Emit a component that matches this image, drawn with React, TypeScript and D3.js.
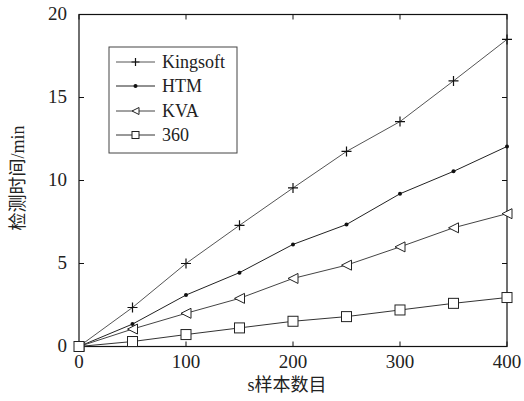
import React from "react";
import * as d3 from "d3";

const xValues = [0, 50, 100, 150, 200, 250, 300, 350, 400];
const kingsoft = [0, 2.35, 5.0, 7.3, 9.55, 11.75, 13.55, 16.0, 18.5];
const htm = [0, 1.35, 3.1, 4.45, 6.15, 7.35, 9.2, 10.55, 12.05];
const kva = [0, 1.05, 2.0, 2.9, 4.1, 4.9, 6.0, 7.15, 8.0];
const s360 = [0, 0.3, 0.72, 1.12, 1.52, 1.8, 2.2, 2.6, 2.95];
const xTicks = [0, 100, 200, 300, 400];
const yTicks = [0, 5, 10, 15, 20];

const series = [
  { name: "Kingsoft", values: kingsoft, marker: "plus", color: "#555" },
  { name: "HTM", values: htm, marker: "dot", color: "#222" },
  { name: "KVA", values: kva, marker: "tri", color: "#444" },
  { name: "360", values: s360, marker: "square", color: "#333" },
];

const font = "'Liberation Serif', 'Times New Roman', 'Noto Sans CJK SC', serif";

const Marker = ({ type, x, y, s = 5 }: { type: string; x: number; y: number; s?: number }) => {
  if (type === "plus")
    return (
      <path d={`M${x - s},${y}H${x + s}M${x},${y - s}V${y + s}`} stroke="#111" strokeWidth={1.2} fill="none" />
    );
  if (type === "dot") return <circle cx={x} cy={y} r={2} fill="#111" />;
  if (type === "tri")
    return (
      <path d={`M${x - s},${y}L${x + s},${y - s}L${x + s},${y + s}Z`} stroke="#222" strokeWidth={1} fill="white" />
    );
  return <rect x={x - s} y={y - s} width={2 * s} height={2 * s} stroke="#222" strokeWidth={1} fill="white" />;
};

export default function App() {
  const W = 524, H = 401;
  const left = 79, right = 507, top = 14.5, bottom = 346.5;
  const x = d3.scaleLinear().domain([0, 400]).range([left, right]);
  const y = d3.scaleLinear().domain([0, 20]).range([bottom, top]);
  const line = d3.line<number>().x((_, i) => x(xValues[i])).y((d) => y(d));
  const tk = 5;

  const legendX = 109, legendY = 47, legendW = 128, legendH = 106;
  const rowY = [62, 86, 111, 135];

  return (
    <svg width={W} height={H} style={{ position: "absolute", left: 0, top: 0, background: "white" }} fontFamily={font}>
      {/* frame */}
      <rect x={left} y={top} width={right - left} height={bottom - top} fill="none" stroke="#111" strokeWidth={1.2} />
      {/* ticks */}
      {xTicks.map((t) => (
        <g key={"x" + t}>
          <line x1={x(t)} x2={x(t)} y1={bottom} y2={bottom - tk} stroke="#111" />
          <line x1={x(t)} x2={x(t)} y1={top} y2={top + tk} stroke="#111" />
          <text x={x(t)} y={368} fontSize={19} textAnchor="middle" fill="#222">{t}</text>
        </g>
      ))}
      {yTicks.map((t) => (
        <g key={"y" + t}>
          <line x1={left} x2={left + tk} y1={y(t)} y2={y(t)} stroke="#111" />
          <line x1={right} x2={right - tk} y1={y(t)} y2={y(t)} stroke="#111" />
          <text x={67} y={y(t) + 5} fontSize={19} textAnchor="end" fill="#222">{t}</text>
        </g>
      ))}
      {/* series */}
      {series.map((s) => (
        <g key={s.name}>
          <path d={line(s.values) || ""} fill="none" stroke={s.color} strokeWidth={1} />
          {s.values.map((v, i) => (
            <Marker key={i} type={s.marker} x={x(xValues[i])} y={y(v)} />
          ))}
        </g>
      ))}
      {/* legend */}
      <rect x={legendX} y={legendY} width={legendW} height={legendH} fill="white" stroke="#444" strokeWidth={1} />
      {series.map((s, i) => (
        <g key={"l" + s.name}>
          <line x1={116} x2={155} y1={rowY[i]} y2={rowY[i]} stroke={s.color} strokeWidth={1} />
          <Marker type={s.marker} x={135.5} y={rowY[i]} s={s.marker === "plus" ? 4 : 3.5} />
          <text x={162} y={rowY[i] + 6} fontSize={18} fill="#222">{s.name}</text>
        </g>
      ))}
      {/* axis labels */}
      <text x={287} y={391} fontSize={18} textAnchor="middle" fill="#222">s样本数目</text>
      <text transform={`translate(24,178) rotate(-90)`} fontSize={18} textAnchor="middle" fill="#222">检测时间/min</text>
    </svg>
  );
}
